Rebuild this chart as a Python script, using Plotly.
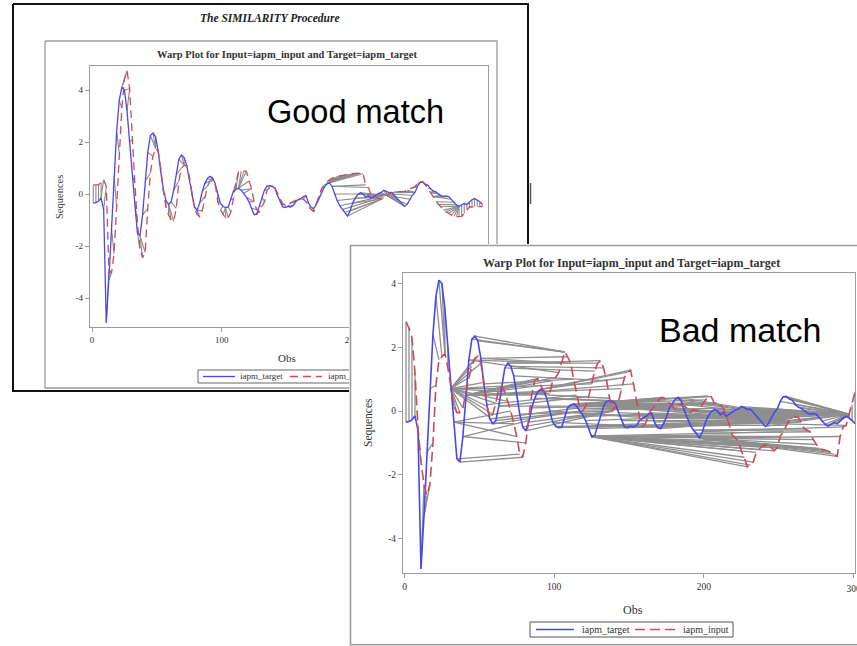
import numpy as np
import plotly.graph_objects as go

W, H = 857, 646

# ---------------- data ----------------
obs = list(range(1, 302, 2))

iapm_target = [
    -0.35, -0.33, -0.28, -0.15, -0.6, -4.95, -3.3, -1.3, 0.7, 2.4,
    3.6, 4.1, 4.0, 3.2, 2.0, 0.7, -0.35, -1.5, -1.6, -0.8,
    0.5, 1.6, 2.25, 2.35, 2.2, 1.65, 0.85, 0.2, -0.25, -0.4,
    -0.3, 0.15, 0.75, 1.35, 1.5, 1.4, 1.1, 0.55, -0.1, -0.5,
    -0.62, -0.35, 0.1, 0.4, 0.6, 0.68, 0.62, 0.4, 0.0, -0.35,
    -0.48, -0.52, -0.5, -0.2, 0.1, 0.19, 0.22, 0.15, 0.03, -0.12,
    -0.3, -0.55, -0.8, -0.78, -0.45, -0.12, 0.15, 0.3, 0.32, 0.3,
    0.22, -0.05, -0.3, -0.5, -0.52, -0.48, -0.5, -0.45, -0.3, -0.22,
    -0.18, -0.1, -0.06, -0.35, -0.52, -0.55, -0.4, -0.18, 0.1, 0.25,
    0.38, 0.43, 0.3, 0.0, -0.25, -0.45, -0.6, -0.7, -0.85, -0.65,
    -0.35, -0.15, -0.02, 0.05, 0.0, -0.12, -0.05, -0.17, -0.1, -0.02,
    0.03, 0.06, 0.14, 0.1, 0.05, 0.06, -0.05, -0.15, -0.25, -0.38,
    -0.48, -0.4, -0.2, -0.05, 0.06, 0.3, 0.45, 0.46, 0.38, 0.34,
    0.2, 0.12, 0.08, 0.0, -0.06, -0.1, -0.08, -0.1, -0.2, -0.32,
    -0.42, -0.47, -0.42, -0.36, -0.4, -0.3, -0.22, -0.17, -0.22, -0.3,
    -0.4,
]

iapm_input_good = [
    0.35, 0.35, 0.35, 0.45, 0.55, 0.3, -2.9, -3.05, -2.3, -0.5,
    1.6, 3.3, 4.4, 4.75, 4.05, 2.1, 0.45, -1.1, -2.1, -2.45,
    -2.25, -0.55, 0.8, 1.45, 1.75, 1.65, 1.0, 0.1, -0.5, -0.8,
    -1.0, -1.05, -0.55, 0.5, 1.0, 1.1, 1.08, 0.7, 0.1, -0.55,
    -0.78, -0.87, -0.65, -0.1, 0.3, 0.5, 0.52, 0.35, -0.3, -0.6,
    -0.8, -0.94, -0.92, -0.7, -0.2, 0.45, 0.85, 0.88, 0.88, 0.88,
    0.5, 0.2, -0.3, -0.6, -0.68, -0.5, -0.3, 0.15, 0.25, 0.27,
    0.25, 0.05, -0.2, -0.38, -0.42, -0.45, -0.35, -0.3, -0.25, -0.2,
    -0.19, -0.2, -0.3, -0.49, -0.6, -0.68, -0.35, -0.05, 0.2, 0.35,
    0.45, 0.55, 0.6, 0.65, 0.68, 0.7, 0.72, 0.74, 0.76, 0.77,
    0.78, 0.79, 0.8, 0.8, 0.78, 0.35, 0.25, 0.0, -0.1, -0.15,
    -0.17, -0.2, -0.15, -0.05, 0.0, 0.05, 0.08, 0.09, 0.09, 0.09,
    0.1, 0.15, 0.2, 0.25, 0.28, 0.4, 0.48, 0.47, 0.35, 0.22,
    0.05, -0.1, -0.3, -0.4, -0.49, -0.62, -0.68, -0.75, -0.82, -0.87,
    -0.87, -0.87, -0.86, -0.75, -0.6, -0.5, -0.5, -0.49, -0.49, -0.48,
    -0.48,
]

iapm_input_bad = [
    2.8, 2.6, 2.3, 1.2, -0.5, -1.6, -2.3, -2.65, -2.3, -1.0,
    0.8, 1.6, 1.7, 1.8, 1.35, 0.7, 0.15, -0.05, -0.05, 0.1,
    0.6, 1.05, 1.4, 1.65, 1.72, 1.5, 0.9, 0.15, -0.2, -0.1,
    0.25, 0.7, 0.78, 0.6, 0.3, 0.0, -0.4, -0.8, -1.35, -1.45,
    -1.0, -0.3, 0.5, 0.95, 1.02, 0.8, 0.62, 0.58, 0.55, 0.95,
    1.05, 1.2, 1.5, 1.85, 1.7, 1.5, 1.0, 0.5, 0.1, 0.0,
    0.15, 0.45, 0.85, 1.25, 1.5, 1.58, 1.35, 0.95, 0.4, 0.0,
    0.15, 0.3, 0.7, 1.05, 1.22, 1.28, 0.85, 0.3, -0.2, -0.48,
    -0.4, -0.1, 0.05, 0.15, 0.3, 0.42, 0.42, 0.35, 0.25, 0.15,
    0.05, 0.2, 0.2, 0.15, 0.08, -0.05, 0.05, 0.0, 0.05, 0.2,
    0.35, 0.47, 0.45, 0.24, 0.25, 0.2, 0.08, -0.15, -0.45, -0.75,
    -0.85, -0.95, -1.25, -1.45, -1.75, -1.7, -1.6, -1.3, -1.2, -1.1,
    -1.07, -1.05, -1.15, -1.25, -1.15, -0.8, -0.65, -0.45, -0.3, -0.22,
    -0.18, -0.2, -0.35, -0.55, -0.6, -0.65, -0.9, -1.05, -1.17, -1.2,
    -1.22, -1.25, -1.3, -1.35, -1.42, -0.8, -0.5, -0.45, -0.1, 0.2,
    0.6,
]

obs_ticks = [0, 100, 200, 300]
seq_ticks = [-4, -2, 0, 2, 4]
legend_names = ["iapm_target", "iapm_input"]
proc_title = "The SIMILARITY Procedure"
plot_title = "Warp Plot for Input=iapm_input and Target=iapm_target"
x_label = "Obs"
y_label = "Sequences"
notes = ["Good match", "Bad match"]

# ---------------- styling ----------------
BLUE = "#4848ee"
RED = "#cc4b5a"
GRAY = "#8c8c8c"
FRAME = "#9c9c9c"
SERIF = "Liberation Serif"
SANS = "Liberation Sans"

# panel geometry (pixels)
BACK_DOM_X, BACK_DOM_Y = (90, 488), (66, 327)
BACK_RANGE_X = ((90 - 92) / 1.297, (488 - 92) / 1.297)
BACK_RANGE_Y = ((194 - 327) / 26, (194 - 66) / 26)
FRONT_DOM_X, FRONT_DOM_Y = (403, 855), (273, 573)
FRONT_RANGE_X = ((403 - 404.5) / 1.497, (855 - 404.5) / 1.497)
FRONT_RANGE_Y = ((411 - 573) / 31.9, (411 - 273) / 31.9)


def dtw_path(a, b):
    a = np.asarray(a, float)
    b = np.asarray(b, float)
    n, m = len(a), len(b)
    cost = np.abs(a[:, None] - b[None, :])
    D = np.full((n + 1, m + 1), np.inf)
    D[0, 0] = 0.0
    for i in range(1, n + 1):
        for j in range(1, m + 1):
            D[i, j] = cost[i - 1, j - 1] + min(D[i - 1, j], D[i, j - 1], D[i - 1, j - 1])
    i, j = n, m
    path = [(n - 1, m - 1)]
    while i > 1 or j > 1:
        cands = []
        if i > 1 and j > 1:
            cands.append((D[i - 1, j - 1], i - 1, j - 1))
        if i > 1:
            cands.append((D[i - 1, j], i - 1, j))
        if j > 1:
            cands.append((D[i, j - 1], i, j - 1))
        _, i, j = min(cands)
        path.append((i - 1, j - 1))
    return path[::-1]


def warp_xy(target, inp):
    xs, ys = [], []
    for i, j in dtw_path(target, inp):
        xs += [obs[i], obs[j], None]
        ys += [target[i], inp[j], None]
    return xs, ys


fig = go.Figure()


# ---- canvas subplot (pixel coordinates) : back panel decorations ----
def canvas_line(xs, ys, color, width, dash=None):
    fig.add_trace(go.Scatter(x=xs, y=ys, mode="lines", xaxis="x", yaxis="y",
                             line=dict(color=color, width=width, dash=dash),
                             hoverinfo="skip", showlegend=False))


canvas_line([13, 528, 528, 13, 13], [4, 4, 391, 391, 4], "#111111", 2)
canvas_line([45, 497, 497, 45, 45], [41, 41, 388, 388, 41], FRAME, 1.3)
canvas_line([530.5, 530.5], [183, 204], "#555555", 1.5)
canvas_line([198, 378, 378, 198, 198], [370, 370, 383, 383, 370], "#666666", 1)
canvas_line([203, 235], [376.5, 376.5], BLUE, 1.3)
canvas_line([290, 322], [376.5, 376.5], RED, 1.3, "8px,5px")
fig.add_trace(go.Scatter(x=[240, 328], y=[376.5, 376.5], mode="text", xaxis="x", yaxis="y",
                         text=legend_names, textposition="middle right",
                         textfont=dict(family=SERIF, size=9, color="#333333"),
                         hoverinfo="skip", showlegend=False))

# ---- back plot (good match) ----
wx, wy = warp_xy(iapm_target, iapm_input_good)
fig.add_trace(go.Scatter(x=wx, y=wy, mode="lines", xaxis="x2", yaxis="y2",
                         line=dict(color=GRAY, width=1.1), hoverinfo="skip", showlegend=False))
fig.add_trace(go.Scatter(x=obs, y=iapm_target, mode="lines", xaxis="x2", yaxis="y2",
                         line=dict(color=BLUE, width=1.3), name=legend_names[0], showlegend=False))
fig.add_trace(go.Scatter(x=obs, y=iapm_input_good, mode="lines", xaxis="x2", yaxis="y2",
                         line=dict(color=RED, width=1.3, dash="8px,5px"), name=legend_names[1],
                         showlegend=False))

# ---- cover subplot (front panel sheet, pixel coordinates) ----
fig.add_trace(go.Scatter(x=[857, 350.5, 350.5, 857], y=[245.5, 245.5, 644.8, 644.8],
                         mode="lines", xaxis="x3", yaxis="y3",
                         line=dict(color=FRAME, width=1.6), hoverinfo="skip", showlegend=False))
# last front tick label, clipped by the page edge like in the original
last_tick = obs_ticks[-1]
last_px = FRONT_DOM_X[0] + (last_tick - FRONT_RANGE_X[0]) / (FRONT_RANGE_X[1] - FRONT_RANGE_X[0]) * (
    FRONT_DOM_X[1] - FRONT_DOM_X[0])
fig.add_trace(go.Scatter(x=[last_px], y=[589.5], mode="text", xaxis="x3", yaxis="y3",
                         text=[str(last_tick)], textposition="middle center", cliponaxis=True,
                         textfont=dict(family=SERIF, size=9.5, color="#333333"),
                         hoverinfo="skip", showlegend=False))

# ---- front plot (bad match) ----
wx, wy = warp_xy(iapm_target, iapm_input_bad)
fig.add_trace(go.Scatter(x=wx, y=wy, mode="lines", xaxis="x4", yaxis="y4",
                         line=dict(color="#8f8f8f", width=1.3), hoverinfo="skip", showlegend=False))
fig.add_trace(go.Scatter(x=obs, y=iapm_target, mode="lines", xaxis="x4", yaxis="y4",
                         line=dict(color=BLUE, width=1.6), name=legend_names[0], showlegend=False))
fig.add_trace(go.Scatter(x=obs, y=iapm_input_bad, mode="lines", xaxis="x4", yaxis="y4",
                         line=dict(color=RED, width=1.6, dash="10px,5px"), name=legend_names[1],
                         showlegend=False))


def px_x(p):
    return p / W


def px_y(p):
    return 1 - p / H


def data_axis(dom, rng, tickvals, ticktext, size):
    return dict(domain=dom, range=rng, showline=True, mirror=True, linecolor=FRAME,
                linewidth=1.2, ticks="outside", ticklen=4, tickcolor=FRAME, tickwidth=1,
                tickvals=tickvals, ticktext=ticktext,
                tickfont=dict(family=SERIF, size=size, color="#333333"),
                showgrid=False, zeroline=False, fixedrange=True)


hidden = dict(visible=False, fixedrange=True)
obs_text = [str(v) for v in obs_ticks]
seq_text = [str(v) for v in seq_ticks]

fig.update_layout(
    width=W, height=H, autosize=False,
    margin=dict(l=0, r=0, t=0, b=0),
    paper_bgcolor="white", plot_bgcolor="white",
    hovermode=False, showlegend=False,
    xaxis=dict(hidden, domain=[0, 1], range=[0, W]),
    yaxis=dict(hidden, domain=[0, 1], range=[H, 0]),
    xaxis2=data_axis([px_x(BACK_DOM_X[0]), px_x(BACK_DOM_X[1])], list(BACK_RANGE_X),
                     obs_ticks, obs_text, 9),
    yaxis2=data_axis([px_y(BACK_DOM_Y[1]), px_y(BACK_DOM_Y[0])], list(BACK_RANGE_Y),
                     seq_ticks, seq_text, 9),
    xaxis3=dict(hidden, domain=[px_x(349), 1], range=[349, W]),
    yaxis3=dict(hidden, domain=[0, px_y(244)], range=[H, 244]),
    xaxis4=data_axis([px_x(FRONT_DOM_X[0]), px_x(FRONT_DOM_X[1])], list(FRONT_RANGE_X),
                     obs_ticks, obs_text[:-1] + [""], 9.5),
    yaxis4=data_axis([px_y(FRONT_DOM_Y[1]), px_y(FRONT_DOM_Y[0])], list(FRONT_RANGE_Y),
                     seq_ticks, seq_text, 9.5),
)
fig.layout.xaxis2.anchor = "y2"
fig.layout.yaxis2.anchor = "x2"
fig.layout.xaxis4.anchor = "y4"
fig.layout.yaxis4.anchor = "x4"
fig.layout.xaxis3.anchor = "y3"
fig.layout.yaxis3.anchor = "x3"


def note(text, x, y, size, family=SERIF, color="#333333", angle=0, xanchor="center"):
    fig.add_annotation(text=text, x=px_x(x), y=px_y(y), xref="paper", yref="paper",
                       showarrow=False, xanchor=xanchor, yanchor="middle", textangle=angle,
                       font=dict(family=family, size=size, color=color))


note("<b><i>" + proc_title + "</i></b>", 270, 18, 11.5, color="#222222")
note("<b>" + plot_title + "</b>", 287, 55, 10.5)
note(x_label, 287, 358, 11)
note(y_label, 60, 197, 10.5, angle=-90)
note("<b>" + plot_title + "</b>", 631, 263, 12)
note(x_label, 633, 610, 12)
note(y_label, 368, 423, 11.5, angle=-90)
note(notes[0], 355, 112, 32.5, family=SANS, color="#000000")
note(notes[1], 740, 330, 34, family=SANS, color="#000000")

# front legend
fig.add_shape(type="rect", xref="paper", yref="paper", x0=px_x(530), x1=px_x(733),
              y0=px_y(637), y1=px_y(622), line=dict(color="#555555", width=1), layer="above")
fig.add_shape(type="line", xref="paper", yref="paper", x0=px_x(536), x1=px_x(574),
              y0=px_y(629.5), y1=px_y(629.5), line=dict(color=BLUE, width=1.5), layer="above")
fig.add_shape(type="line", xref="paper", yref="paper", x0=px_x(635), x1=px_x(675),
              y0=px_y(629.5), y1=px_y(629.5), line=dict(color=RED, width=1.5, dash="10px,5px"),
              layer="above")
note(legend_names[0], 580, 629.5, 10, xanchor="left")
note(legend_names[1], 681, 629.5, 10, xanchor="left")

fig.write_html("out.html",
               config={"displayModeBar": False, "staticPlot": True},
               post_script="document.body.style.margin='0px';document.body.style.padding='0px';"
                           "document.body.style.overflow='hidden';")
